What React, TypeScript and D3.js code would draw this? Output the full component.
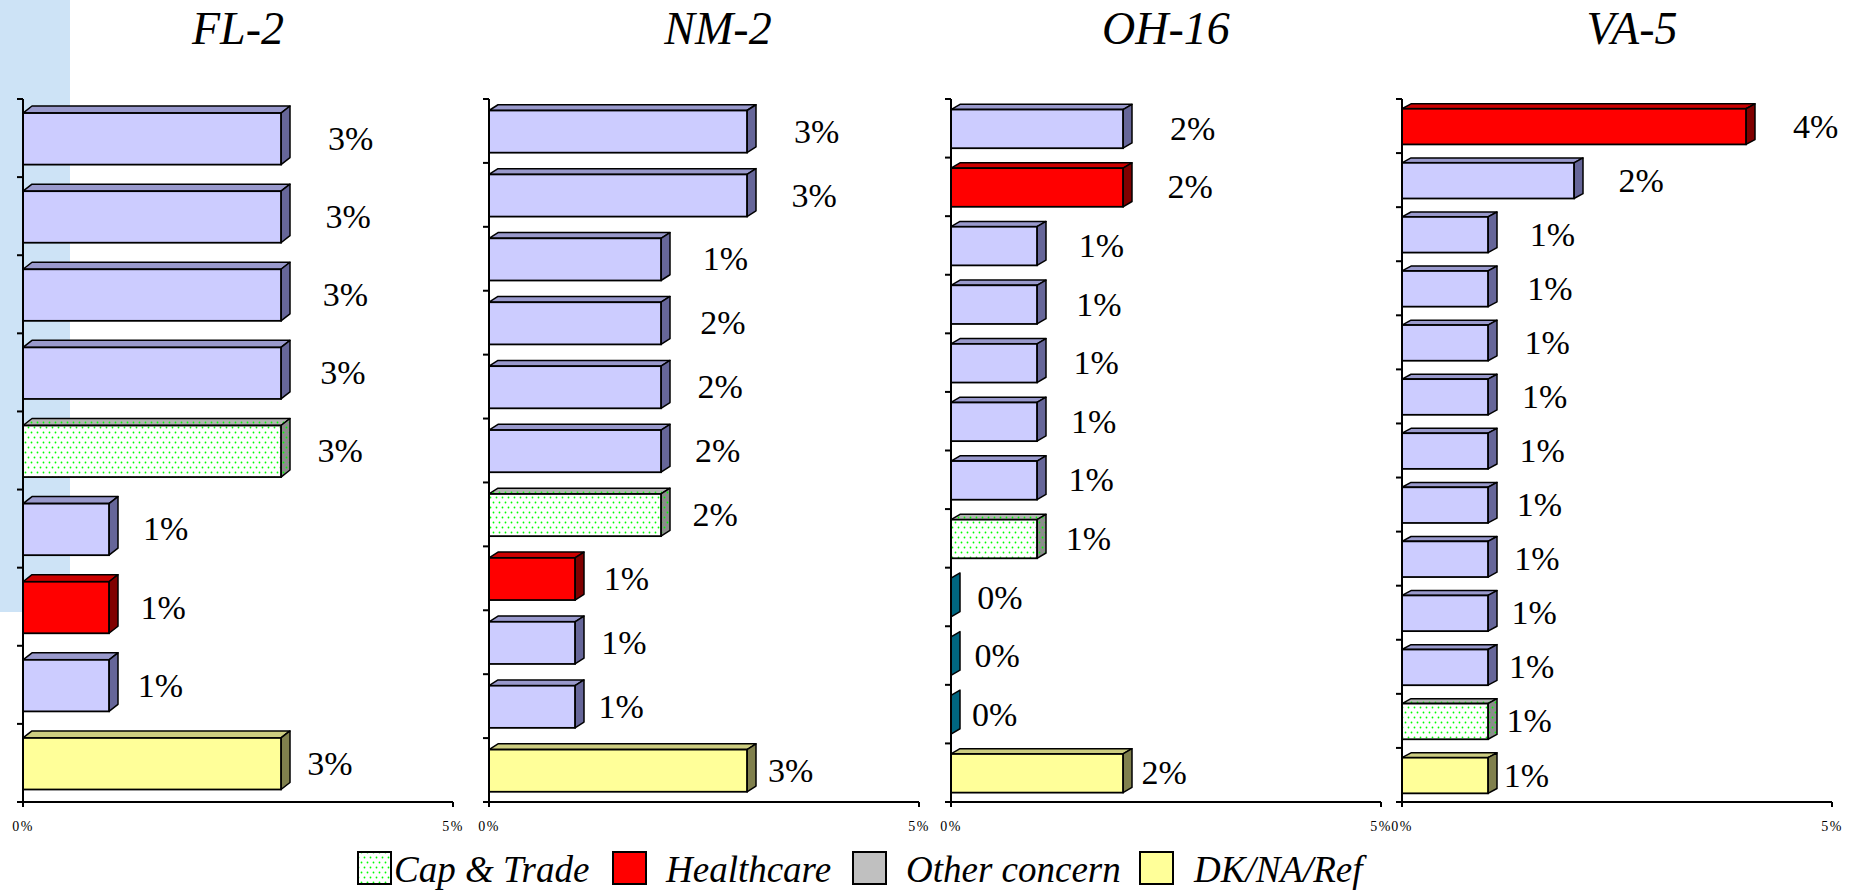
import React, { useEffect, useRef } from 'react';
import * as d3 from 'd3';

// Four district panels, bars listed top to bottom.
// kinds: o = other issue (lavender), c = Cap & Trade, h = Healthcare, d = DK/NA/Ref, z = zero slab
const panelTitles = ['FL-2', 'NM-2', 'OH-16', 'VA-5'];

const flValues = [3, 3, 3, 3, 3, 1, 1, 1, 3];
const flKinds = ['o', 'o', 'o', 'o', 'c', 'o', 'h', 'o', 'd'];
const flLabels = ['3%', '3%', '3%', '3%', '3%', '1%', '1%', '1%', '3%'];

const nmValues = [3, 3, 2, 2, 2, 2, 2, 1, 1, 1, 3];
const nmKinds = ['o', 'o', 'o', 'o', 'o', 'o', 'c', 'h', 'o', 'o', 'd'];
const nmLabels = ['3%', '3%', '1%', '2%', '2%', '2%', '2%', '1%', '1%', '1%', '3%'];

const ohValues = [2, 2, 1, 1, 1, 1, 1, 1, 0, 0, 0, 2];
const ohKinds = ['o', 'h', 'o', 'o', 'o', 'o', 'o', 'c', 'z', 'z', 'z', 'd'];
const ohLabels = ['2%', '2%', '1%', '1%', '1%', '1%', '1%', '1%', '0%', '0%', '0%', '2%'];

const vaValues = [4, 2, 1, 1, 1, 1, 1, 1, 1, 1, 1, 1, 1];
const vaKinds = ['h', 'o', 'o', 'o', 'o', 'o', 'o', 'o', 'o', 'o', 'o', 'c', 'd'];
const vaLabels = ['4%', '2%', '1%', '1%', '1%', '1%', '1%', '1%', '1%', '1%', '1%', '1%', '1%'];

const xTicks = [0, 5];
const legendItems = ['Cap & Trade', 'Healthcare', 'Other concern', 'DK/NA/Ref'];
const legendKinds = ['c', 'h', 'g', 'd'];

const panels = [
  { values: flValues, kinds: flKinds, labels: flLabels },
  { values: nmValues, kinds: nmKinds, labels: nmLabels },
  { values: ohValues, kinds: ohKinds, labels: ohLabels },
  { values: vaValues, kinds: vaKinds, labels: vaLabels },
];

const faceColors: Record<string, { front: string; top: string; side: string }> = {
  o: { front: '#ccccff', top: '#9999cc', side: '#666699' },
  h: { front: '#ff0000', top: '#cc0000', side: '#800000' },
  d: { front: '#ffff99', top: '#cccc80', side: '#80804d' },
  c: { front: 'url(#dots)', top: 'url(#dotsTop)', side: 'url(#dotsSide)' },
  z: { front: '#0099cc', top: '#007a99', side: '#006680' },
  g: { front: '#c0c0c0', top: '#a0a0a0', side: '#808080' },
};

const FONT = "'Liberation Serif', 'Times New Roman', serif";

export default function App() {
  const svgRef = useRef<SVGSVGElement>(null);

  useEffect(() => {
    const width = 1857;
    const height = 890;
    const svg = d3.select(svgRef.current).attr('width', width).attr('height', height);
    svg.selectAll('*').remove();

    // dotted fill for Cap & Trade
    const defs = svg.append('defs');
    [['dots', '#ffffff'], ['dotsTop', '#b3b3b3'], ['dotsSide', '#8c8c8c']].forEach(([id, bg]) => {
      const p = defs.append('pattern').attr('id', id).attr('patternUnits', 'userSpaceOnUse')
        .attr('width', 6).attr('height', 10);
      p.append('rect').attr('width', 6).attr('height', 10).attr('fill', bg);
      p.append('circle').attr('cx', 1.5).attr('cy', 2.5).attr('r', 0.9).attr('fill', '#00ff00');
      p.append('circle').attr('cx', 4.5).attr('cy', 7.5).attr('r', 0.9).attr('fill', '#00ff00');
    });

    // slide background strip
    svg.append('rect').attr('x', 0).attr('y', 0).attr('width', 70).attr('height', 612).attr('fill', '#cde3f6');

    const panelX0 = [23, 489, 951, 1402];
    const panelW = 430;
    const plotTop = 99;
    const plotBottom = 802;
    const titleShift = [0, 14, 0, 15];
    const dx = 9;

    panels.forEach((panel, pi) => {
      const x0 = panelX0[pi];
      const x = d3.scaleLinear().domain([0, 5]).range([x0, x0 + panelW]);
      const y = d3.scaleBand<number>().domain(panel.values.map((_, i) => i)).range([plotTop, plotBottom]);
      const bw = y.bandwidth();
      const g = svg.append('g');

      // title
      g.append('text').attr('x', x0 + panelW / 2 + titleShift[pi]).attr('y', 44)
        .attr('text-anchor', 'middle').attr('font-family', FONT).attr('font-style', 'italic')
        .attr('font-size', 46).attr('fill', '#000').text(panelTitles[pi]);

      // bars
      panel.values.forEach((v, i) => {
        const c = faceColors[panel.kinds[i]];
        const ft = (y(i) as number) + 0.18 * bw;
        const fb = (y(i) as number) + 0.84 * bw;
        const dy = 0.09 * bw;
        const xv = x(v);
        const poly = (pts: number[][]) => pts.map(p => p.join(',')).join(' ');
        if (v > 0) {
          g.append('polygon')
            .attr('points', poly([[x0, ft], [x0 + dx, ft - dy], [xv + dx, ft - dy], [xv, ft]]))
            .attr('fill', c.top).attr('stroke', '#000').attr('stroke-width', 1.5).attr('stroke-linejoin', 'round');
        }
        g.append('polygon')
          .attr('points', poly([[xv, ft], [xv + dx, ft - dy], [xv + dx, fb - dy], [xv, fb]]))
          .attr('fill', c.side).attr('stroke', '#000').attr('stroke-width', 1.5).attr('stroke-linejoin', 'round');
        if (v > 0) {
          g.append('rect').attr('x', x0).attr('y', ft).attr('width', xv - x0).attr('height', fb - ft)
            .attr('fill', c.front).attr('stroke', '#000').attr('stroke-width', 1.8);
        }
        g.append('text').attr('x', xv + dx + 38 - 2.6 * i).attr('y', (ft + fb) / 2 + 11)
          .attr('font-family', FONT).attr('font-size', 34).attr('fill', '#000').text(panel.labels[i]);
      });

      // left axis with ticks between bands
      g.append('line').attr('x1', x0).attr('x2', x0).attr('y1', plotTop).attr('y2', plotBottom)
        .attr('stroke', '#000').attr('stroke-width', 2);
      const edges = panel.values.map((_, i) => y(i) as number).concat([plotBottom]);
      g.selectAll('.ytick').data(edges).join('line').attr('class', 'ytick')
        .attr('x1', x0 - 6).attr('x2', x0).attr('y1', d => d).attr('y2', d => d)
        .attr('stroke', '#000').attr('stroke-width', 2);

      // bottom axis
      g.append('line').attr('x1', x0).attr('x2', x0 + panelW).attr('y1', plotBottom).attr('y2', plotBottom)
        .attr('stroke', '#000').attr('stroke-width', 2);
      xTicks.forEach(t => {
        g.append('line').attr('x1', x(t)).attr('x2', x(t)).attr('y1', plotBottom).attr('y2', plotBottom + 5)
          .attr('stroke', '#000').attr('stroke-width', 2);
        g.append('text').attr('x', x(t)).attr('y', 831).attr('text-anchor', 'middle')
          .attr('font-family', FONT).attr('font-size', 14).attr('letter-spacing', 1.5)
          .attr('fill', '#000').text(`${t}%`);
      });
    });

    // legend
    const legendBoxX = [358, 613, 853, 1140];
    const legendTextX = [394, 666, 906, 1194];
    legendItems.forEach((name, i) => {
      const lx = legendBoxX[i];
      svg.append('rect').attr('x', lx).attr('y', 852).attr('width', 33).attr('height', 32)
        .attr('fill', faceColors[legendKinds[i]].front).attr('stroke', '#000').attr('stroke-width', 2);
      svg.append('text').attr('x', legendTextX[i]).attr('y', 882).attr('font-family', FONT)
        .attr('font-style', 'italic').attr('font-size', 37).attr('fill', '#000').text(name);
    });
  }, []);

  return (
    <div style={{ position: 'absolute', left: 0, top: 0 }}>
      <svg ref={svgRef} style={{ display: 'block' }} />
    </div>
  );
}
